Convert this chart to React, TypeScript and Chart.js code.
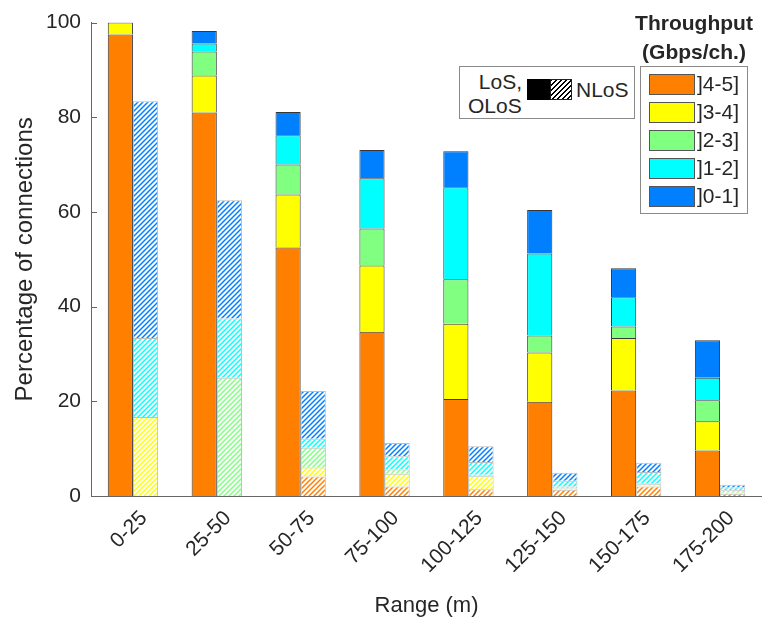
import { useEffect, useRef } from 'react';
import { Chart, registerables } from 'chart.js';

Chart.register(...registerables);

// Distance bins and throughput classes
const ranges = ['0-25', '25-50', '50-75', '75-100', '100-125', '125-150', '150-175', '175-200'];
const throughputBins = [']4-5]', ']3-4]', ']2-3]', ']1-2]', ']0-1]'];
const binColors = ['#FF7F00', '#FFFF00', '#80FF80', '#00FFFF', '#0080FF'];
const yTicks = [0, 20, 40, 60, 80, 100];

// LoS / OLoS connections (% per throughput class)
const losBin45 = [97.5, 81.0, 52.5, 34.7, 20.5, 19.9, 22.3, 9.6];
const losBin34 = [2.5, 7.8, 11.2, 14.0, 15.9, 10.4, 11.1, 6.2];
const losBin23 = [0, 5.1, 6.3, 7.8, 9.4, 3.6, 2.4, 4.4];
const losBin12 = [0, 1.7, 6.2, 10.6, 19.4, 17.3, 6.2, 4.8];
const losBin01 = [0, 2.6, 4.9, 6.0, 7.6, 9.2, 6.1, 7.9];

// NLoS connections (% per throughput class)
const nlosBin45 = [0, 0, 4.1, 2.0, 1.4, 1.3, 2.0, 0.5];
const nlosBin34 = [16.7, 0, 1.9, 2.7, 2.75, 0.3, 0.5, 0.2];
const nlosBin23 = [0, 25.0, 4.2, 0.9, 0.35, 0.4, 0.2, 0.5];
const nlosBin12 = [16.7, 12.5, 1.9, 2.8, 2.7, 1.2, 2.35, 0.6];
const nlosBin01 = [50.0, 25.0, 10.1, 2.8, 3.3, 1.7, 1.95, 0.6];

const FONT = '"Liberation Sans", Arial, Helvetica, sans-serif';
const TEXT = '#262626';

function hatch(color: string): CanvasPattern {
  const s = 5;
  const c = document.createElement('canvas');
  c.width = s;
  c.height = s;
  const g = c.getContext('2d')!;
  g.fillStyle = '#ffffff';
  g.fillRect(0, 0, s, s);
  g.strokeStyle = color;
  g.lineWidth = 1.5;
  g.beginPath();
  g.moveTo(0, s);
  g.lineTo(s, 0);
  g.moveTo(-1, 1);
  g.lineTo(1, -1);
  g.moveTo(s - 1, s + 1);
  g.lineTo(s + 1, s - 1);
  g.stroke();
  return g.createPattern(c, 'repeat')!;
}

// small inward tick marks on the y axis
const innerTicks = {
  id: 'innerTicks',
  afterDraw(chart: any) {
    const { ctx, chartArea, scales } = chart;
    const y = scales.y;
    ctx.save();
    ctx.strokeStyle = '#666';
    ctx.lineWidth = 1;
    for (const v of yTicks) {
      const py = Math.round(y.getPixelForValue(v)) + 0.5;
      ctx.beginPath();
      ctx.moveTo(chartArea.left, py);
      ctx.lineTo(chartArea.left + 6, py);
      ctx.stroke();
    }
    ctx.restore();
  },
};

export default function App() {
  const ref = useRef<HTMLCanvasElement>(null);

  useEffect(() => {
    const ctx = ref.current!.getContext('2d')!;
    const losSeries = [losBin45, losBin34, losBin23, losBin12, losBin01];
    const nlosSeries = [nlosBin45, nlosBin34, nlosBin23, nlosBin12, nlosBin01];

    const datasets: any[] = [
      ...losSeries.map((d, i) => ({
        label: `LoS, OLoS ${throughputBins[i]}`,
        data: d,
        stack: 'los',
        backgroundColor: binColors[i],
        borderColor: 'rgba(20,20,20,0.85)',
        borderWidth: 1,
      })),
      ...nlosSeries.map((d, i) => ({
        label: `NLoS ${throughputBins[i]}`,
        data: d,
        stack: 'nlos',
        backgroundColor: hatch(binColors[i]),
        borderColor: 'rgba(110,110,110,0.45)',
        borderWidth: 1,
      })),
    ];

    const chart = new Chart(ctx, {
      type: 'bar',
      data: { labels: ranges, datasets },
      plugins: [innerTicks],
      options: {
        responsive: false,
        animation: false,
        layout: { padding: { top: 21, right: 0, bottom: 0, left: 0 } },
        datasets: { bar: { categoryPercentage: 0.6, barPercentage: 1 } },
        plugins: { legend: { display: false }, tooltip: { enabled: false } },
        scales: {
          x: {
            stacked: true,
            grid: { display: false, drawTicks: false },
            border: { display: true, color: '#666', width: 1 },
            afterFit: (s: any) => {
              s.height = 129;
            },
            ticks: {
              color: TEXT,
              font: { family: FONT, size: 21 },
              minRotation: 45,
              maxRotation: 45,
              padding: 10,
              labelOffset: 11,
              autoSkip: false,
            },
            title: {
              display: true,
              text: 'Range (m)',
              color: TEXT,
              font: { family: FONT, size: 22 },
              padding: { top: 0, bottom: 6 },
            },
          },
          y: {
            stacked: true,
            min: 0,
            max: 100,
            grid: { display: false, drawTicks: false },
            border: { display: true, color: '#666', width: 1 },
            afterFit: (s: any) => {
              s.width = 91;
            },
            afterBuildTicks: (s: any) => {
              s.ticks = yTicks.map((v) => ({ value: v }));
            },
            ticks: {
              color: TEXT,
              font: { family: FONT, size: 21 },
              padding: 10,
            },
            title: {
              display: true,
              text: 'Percentage of connections',
              color: TEXT,
              font: { family: FONT, size: 24 },
              padding: { top: 11, bottom: 0 },
            },
          },
        },
      },
    });
    return () => chart.destroy();
  }, []);

  const txt: any = { position: 'absolute', fontFamily: FONT, fontSize: 21, color: TEXT, lineHeight: '24px', whiteSpace: 'nowrap' };

  return (
    <div style={{ position: 'absolute', left: 0, top: 0, width: 762, height: 625, background: '#fff' }}>
      <canvas ref={ref} width={762} height={625} style={{ display: 'block' }} />

      {/* LoS / NLoS style key */}
      <div style={{ position: 'absolute', left: 459, top: 66, width: 174, height: 51, border: '1px solid #8a8a8a', background: '#fff' }}>
        <div style={{ ...txt, left: 0, width: 62, textAlign: 'right', top: 3 }}>LoS,</div>
        <div style={{ ...txt, left: 8, top: 27 }}>OLoS</div>
        <div style={{ position: 'absolute', left: 67, top: 12, width: 23, height: 21, background: '#000' }} />
        <div
          style={{
            position: 'absolute',
            left: 90,
            top: 12,
            width: 20,
            height: 19,
            border: '1px solid #222',
            background: 'repeating-linear-gradient(135deg, #000 0px, #000 1.3px, #fff 1.3px, #fff 3.5px)',
          }}
        />
        <div style={{ ...txt, left: 116, top: 11 }}>NLoS</div>
      </div>

      {/* Throughput class key */}
      <div style={{ ...txt, left: 626, width: 136, textAlign: 'center', top: 11, fontWeight: 'bold', fontSize: 21 }}>Throughput</div>
      <div style={{ ...txt, left: 626, width: 136, textAlign: 'center', top: 40, fontWeight: 'bold', fontSize: 21 }}>(Gbps/ch.)</div>
      <div style={{ position: 'absolute', left: 640, top: 66, width: 106, height: 146, border: '1px solid #8a8a8a', background: '#fff' }}>
        {throughputBins.map((b, i) => (
          <div key={b}>
            <div
              style={{
                position: 'absolute',
                left: 8,
                top: 7 + i * 28,
                width: 44,
                height: 19,
                background: binColors[i],
                border: '1px solid #555',
              }}
            />
            <div style={{ ...txt, left: 56, top: 5 + i * 28 }}>{b}</div>
          </div>
        ))}
      </div>
    </div>
  );
}
